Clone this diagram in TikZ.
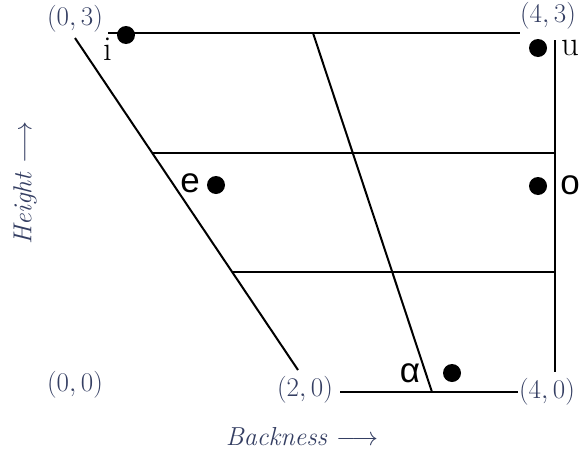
\RequirePackage{fix-cm}
\documentclass[tikz,border=0pt]{standalone}
\usepackage{fontspec}
\newfontfamily\vowelsans{Liberation Sans}
\definecolor{coordblue}{RGB}{52,62,98}
\begin{document}
\begin{tikzpicture}[x=1pt, y=-1pt,
    edge/.style={line width=2pt},
    vdot/.style={fill, circle, inner sep=0pt, minimum size=18pt},
    corner/.style={text=coordblue, inner sep=0pt, font=\fontsize{27}{30}\selectfont},
    axislabel/.style={text=coordblue, font=\fontsize{26}{30}\selectfont\itshape},
    vowel/.style={inner sep=0pt, font=\fontsize{35}{38}\selectfont\vowelsans},
    vowelrm/.style={inner sep=0pt, font=\fontsize{35}{38}\selectfont}]
    \useasboundingbox (0,0) rectangle (584,450);

    % Ecken und Schnittpunkte
    \coordinate (lt) at (75,38);
    \coordinate (lb) at (298,370);
    \coordinate (tl) at (108,33);
    \coordinate (tr) at (520,33);
    \coordinate (rt) at (555,40);
    \coordinate (rb) at (555,372);
    \coordinate (mt) at (313,33);
    \coordinate (mb) at (432,392);
    \coordinate (hao) at (152,153);
    \coordinate (hbo) at (555,153);
    \coordinate (hau) at (233,272);
    \coordinate (hbu) at (555,272);
    \coordinate (bl) at (340,392);
    \coordinate (br) at (518,392);

    % Linien
    \draw[edge] (lt) -- (lb);
    \draw[edge] (tl) -- (tr);
    \draw[edge] (rt) -- (rb);
    \draw[edge] (mt) -- (mb);
    \draw[edge] (hao) -- (hbo);
    \draw[edge] (hau) -- (hbu);
    \draw[edge] (bl) -- (br);

    % Koordinaten
    \node[corner] (c03) at (75,19) {$(0,3)$};
    \node[corner] (c43) at (548,16) {$(4,3)$};
    \node[corner] (c00) at (75,385) {$(0,0)$};
    \node[corner] (c20) at (305,390) {$(2,0)$};
    \node[corner] (c40) at (547,392) {$(4,0)$};

    % Achsen
    \node[axislabel, rotate=90] (height) at (25,183) {Height $\longrightarrow$};
    \node[axislabel] (backness) at (302,437) {Backness $\longrightarrow$};

    % Vokale
    \node[vdot] (di) at (126,35) {};
    \node[vdot] (du) at (538,48) {};
    \node[vdot] (de) at (216,185) {};
    \node[vdot] (do) at (538,186) {};
    \node[vdot] (da) at (452,373) {};
    \node[vowelrm] (li) at (108,49) {i};
    \node[vowelrm] (lu) at (570,48) {u};
    \node[vowel] (le) at (190,183) {e};
    \node[vowel] (lo) at (570,185) {o};
    \node[vowel] (la) at (410,373) {α};
\end{tikzpicture}
\end{document}
